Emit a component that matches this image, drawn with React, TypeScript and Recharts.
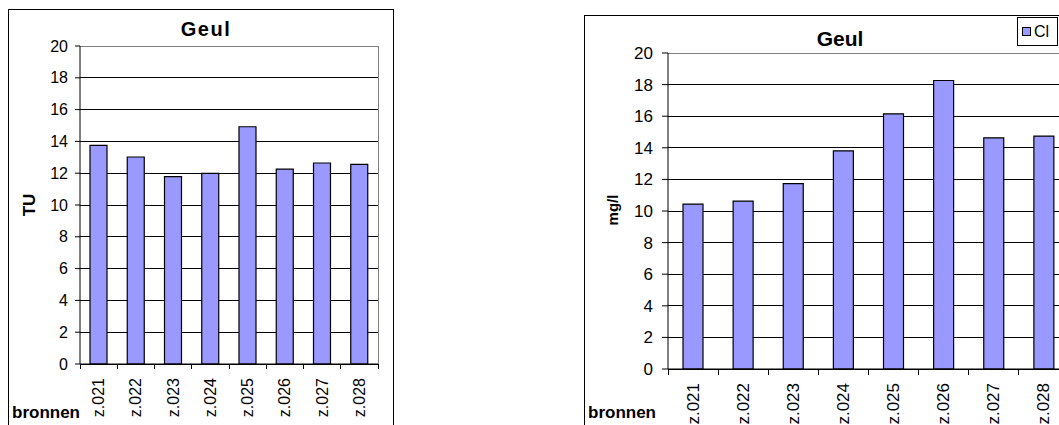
import React from "react";
import {
  BarChart,
  Bar,
  XAxis,
  YAxis,
  CartesianGrid,
  Legend,
  usePlotArea,
} from "recharts";

// Wells along the Geul and their measurements
const wells = ["z.021", "z.022", "z.023", "z.024", "z.025", "z.026", "z.027", "z.028"];
const tritium = [13.75, 13.02, 11.78, 11.99, 14.92, 12.26, 12.64, 12.55];
const chloride = [10.44, 10.63, 11.73, 13.81, 16.15, 18.26, 14.63, 14.74];
const yTicks = [0, 2, 4, 6, 8, 10, 12, 14, 16, 18, 20];

const tuData = wells.map((name, i) => ({ name, TU: tritium[i] }));
const clData = wells.map((name, i) => ({ name, Cl: chloride[i] }));

const FONT = "'Liberation Sans', Arial, sans-serif";
const BAR_FILL = "#9999FF";

// gray plot border (top/right) plus tick marks between categories
function PlotFrame({ count, tickLength }: { count: number; tickLength: number }) {
  const plot = usePlotArea();
  if (!plot) return null;
  const { x, y, width, height } = plot;
  const step = width / count;
  return (
    <g shapeRendering="crispEdges">
      <line x1={x} y1={y} x2={x + width} y2={y} stroke="#808080" />
      <line x1={x + width} y1={y} x2={x + width} y2={y + height} stroke="#808080" />
      {Array.from({ length: count + 1 }, (_, i) => (
        <line
          key={i}
          x1={x + i * step}
          x2={x + i * step}
          y1={y + height}
          y2={y + height + tickLength}
          stroke="#000"
        />
      ))}
    </g>
  );
}

function CategoryTick(props: any) {
  const { x, y, payload, fontSize } = props;
  return (
    <text
      x={x}
      y={y}
      transform={`rotate(-90, ${x}, ${y})`}
      textAnchor="end"
      dominantBaseline="central"
      fontSize={fontSize}
      fontFamily={FONT}
      fill="#000"
    >
      {payload.value}
    </text>
  );
}

function LegendBox() {
  return (
    <div
      style={{
        width: 41,
        height: 29,
        border: "1px solid #000",
        boxSizing: "border-box",
        background: "#fff",
        display: "flex",
        alignItems: "center",
        fontFamily: FONT,
        fontSize: 16,
        color: "#000",
      }}
    >
      <span
        style={{
          display: "inline-block",
          width: 7,
          height: 7,
          marginLeft: 4,
          marginRight: 3,
          background: BAR_FILL,
          border: "1px solid #000",
        }}
      />
      <span>Cl</span>
    </div>
  );
}

const boxStyle = (left: number, top: number, width: number): React.CSSProperties => ({
  position: "absolute",
  left,
  top,
  width,
  height: 440,
  border: "1px solid #000",
  boxSizing: "border-box",
  background: "#fff",
});

export default function App() {
  return (
    <div
      style={{
        position: "absolute",
        left: 0,
        top: 0,
        width: 1059,
        height: 425,
        overflow: "hidden",
        background: "#fff",
        fontFamily: FONT,
      }}
    >
      {/* Tritium per well */}
      <div style={boxStyle(8, 9, 386)}>
        <div style={{ position: "absolute", left: -1, top: -1 }}>
          <BarChart
            width={386}
            height={430}
            data={tuData}
            margin={{ top: 37, right: 16, bottom: 15, left: 0 }}
            barSize={17}
          >
            <CartesianGrid vertical={false} stroke="#000" shapeRendering="crispEdges" />
            <XAxis
              dataKey="name"
              height={60}
              axisLine={{ stroke: "#000" }}
              tickLine={false}
              tickSize={0}
              tickMargin={14}
              interval={0}
              tick={<CategoryTick fontSize={16} />}
            />
            <YAxis
              width={72}
              domain={[0, 20]}
              ticks={yTicks}
              interval={0}
              axisLine={{ stroke: "#000" }}
              tickLine={{ stroke: "#000" }}
              tickSize={5}
              tickMargin={7}
              tick={{ fill: "#000", fontSize: 16, fontFamily: FONT }}
            />
            <Bar dataKey="TU" fill={BAR_FILL} stroke="#000" strokeWidth={1.2} isAnimationActive={false} />
            <PlotFrame count={wells.length} tickLength={5} />
            <text x={198} y={27} textAnchor="middle" fontSize={20} fontWeight="bold" letterSpacing={1.5} fontFamily={FONT}>
              Geul
            </text>
            <text
              x={21}
              y={196}
              transform="rotate(-90, 21, 196)"
              textAnchor="middle"
              dominantBaseline="central"
              fontSize={17}
              fontWeight="bold"
              fontFamily={FONT}
            >
              TU
            </text>
            <text x={4} y={409} fontSize={17} fontWeight="bold" fontFamily={FONT}>
              bronnen
            </text>
          </BarChart>
        </div>
      </div>

      {/* Chloride per well */}
      <div style={boxStyle(584, 15, 512)}>
        <div style={{ position: "absolute", left: -1, top: -1 }}>
          <BarChart
            width={512}
            height={430}
            data={clData}
            margin={{ top: 38, right: 27, bottom: 16, left: 0 }}
            barSize={20}
          >
            <CartesianGrid vertical={false} stroke="#000" shapeRendering="crispEdges" />
            <XAxis
              dataKey="name"
              height={60}
              axisLine={{ stroke: "#000" }}
              tickLine={false}
              tickSize={0}
              tickMargin={14}
              interval={0}
              tick={<CategoryTick fontSize={17} />}
            />
            <YAxis
              width={84}
              domain={[0, 20]}
              ticks={yTicks}
              interval={0}
              axisLine={{ stroke: "#000" }}
              tickLine={{ stroke: "#000" }}
              tickSize={6}
              tickMargin={9}
              tick={{ fill: "#000", fontSize: 17, fontFamily: FONT }}
            />
            <Bar dataKey="Cl" fill={BAR_FILL} stroke="#000" strokeWidth={1.2} isAnimationActive={false} />
            <Legend
              layout="horizontal"
              align="center"
              verticalAlign="middle"
              wrapperStyle={{ left: 433, top: 2, width: 41, height: 29 }}
              content={() => <LegendBox />}
            />
            <PlotFrame count={wells.length} tickLength={6} />
            <text x={256} y={31} textAnchor="middle" fontSize={21} fontWeight="bold" fontFamily={FONT}>
              Geul
            </text>
            <text
              x={28}
              y={195}
              transform="rotate(-90, 28, 195)"
              textAnchor="middle"
              dominantBaseline="central"
              fontSize={15}
              fontWeight="bold"
              fontFamily={FONT}
            >
              mg/l
            </text>
            <text x={4} y={403} fontSize={17} fontWeight="bold" fontFamily={FONT}>
              bronnen
            </text>
          </BarChart>
        </div>
      </div>
    </div>
  );
}
